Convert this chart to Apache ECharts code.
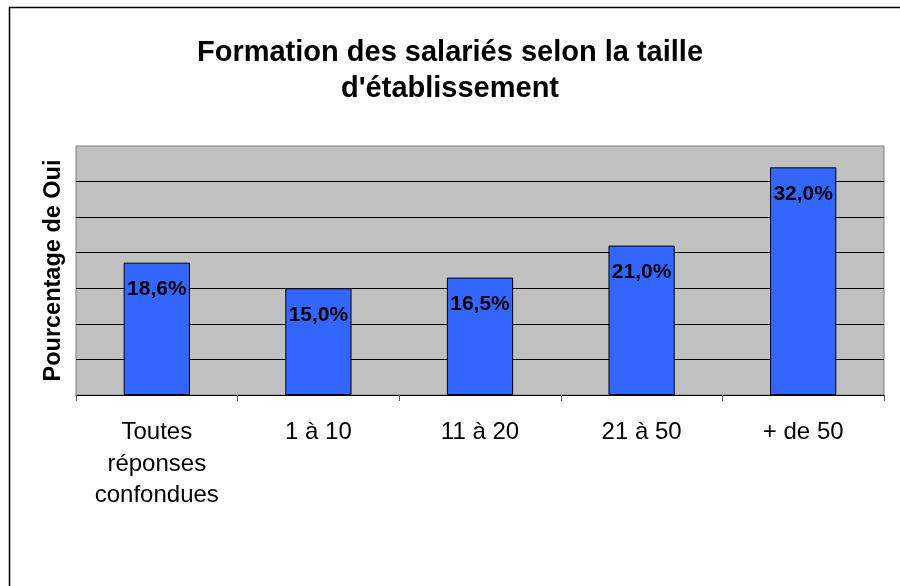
<!DOCTYPE html>
<html lang="fr">
<head>
    <meta charset="UTF-8">
    <script src="https://cdn.jsdelivr.net/npm/echarts@6/dist/echarts.min.js"></script>
    <style>
        html, body { margin: 0; padding: 0; background: #fff; }
        #chart { width: 900px; height: 586px; }
    </style>
</head>
<body>
<div id="chart"></div>
<script type="text/javascript">
    var categories = ['Toutes\nréponses\nconfondues', '1 à 10', '11 à 20', '21 à 50', '+ de 50'];
    var values = [18.6, 15.0, 16.5, 21.0, 32.0];
    var yMin = 0, yMax = 35, yStep = 5;

    var font = '"Liberation Sans", Arial, sans-serif';
    var chart = echarts.init(document.getElementById('chart'));

    var option = {
        backgroundColor: '#fff',
        animation: false,
        title: {
            text: 'Formation des salariés selon la taille\nd\'établissement',
            left: 'center',
            top: 35,
            padding: 0,
            textStyle: { fontFamily: font, fontSize: 29, fontWeight: 'bold', color: '#000', lineHeight: 36 }
        },
        graphic: [{
            type: 'rect',
            shape: { x: 9.5, y: 7.5, width: 1000, height: 1000 },
            style: { fill: 'none', stroke: '#000', lineWidth: 1.5 },
            silent: true
        }],
        grid: {
            left: 76, right: 16, top: 146, bottom: 191,
            show: true,
            backgroundColor: '#C0C0C0',
            borderColor: '#808080',
            borderWidth: 1
        },
        xAxis: {
            type: 'category',
            data: categories,
            boundaryGap: true,
            axisLine: { lineStyle: { color: '#000', width: 1 } },
            axisTick: { show: true, length: 6, lineStyle: { color: '#555' } },
            axisLabel: { fontFamily: font, fontSize: 24, color: '#000', margin: 22, lineHeight: 31.5, interval: 0 }
        },
        yAxis: {
            type: 'value',
            min: yMin, max: yMax, interval: yStep,
            name: 'Pourcentage de Oui',
            nameLocation: 'middle',
            nameGap: 10,
            nameTextStyle: { fontFamily: font, fontSize: 23.5, fontWeight: 'bold', color: '#000', lineHeight: 24 },
            axisLine: { show: false },
            axisTick: { show: false },
            axisLabel: { show: false },
            splitLine: { show: true, showMaxLine: false, lineStyle: { color: '#000', width: 1 } }
        },
        series: [{
            type: 'bar',
            data: values,
            barWidth: '41%',
            itemStyle: { color: '#3366FF', borderColor: '#000', borderWidth: 1 },
            label: {
                show: true,
                position: 'insideTop',
                distance: 16,
                fontFamily: font,
                fontSize: 21,
                fontWeight: 'bold',
                color: '#000',
                lineHeight: 21,
                formatter: function (p) {
                    return p.value.toFixed(1).replace('.', ',') + '%';
                }
            }
        }]
    };

    chart.setOption(option);
</script>
</body>
</html>
